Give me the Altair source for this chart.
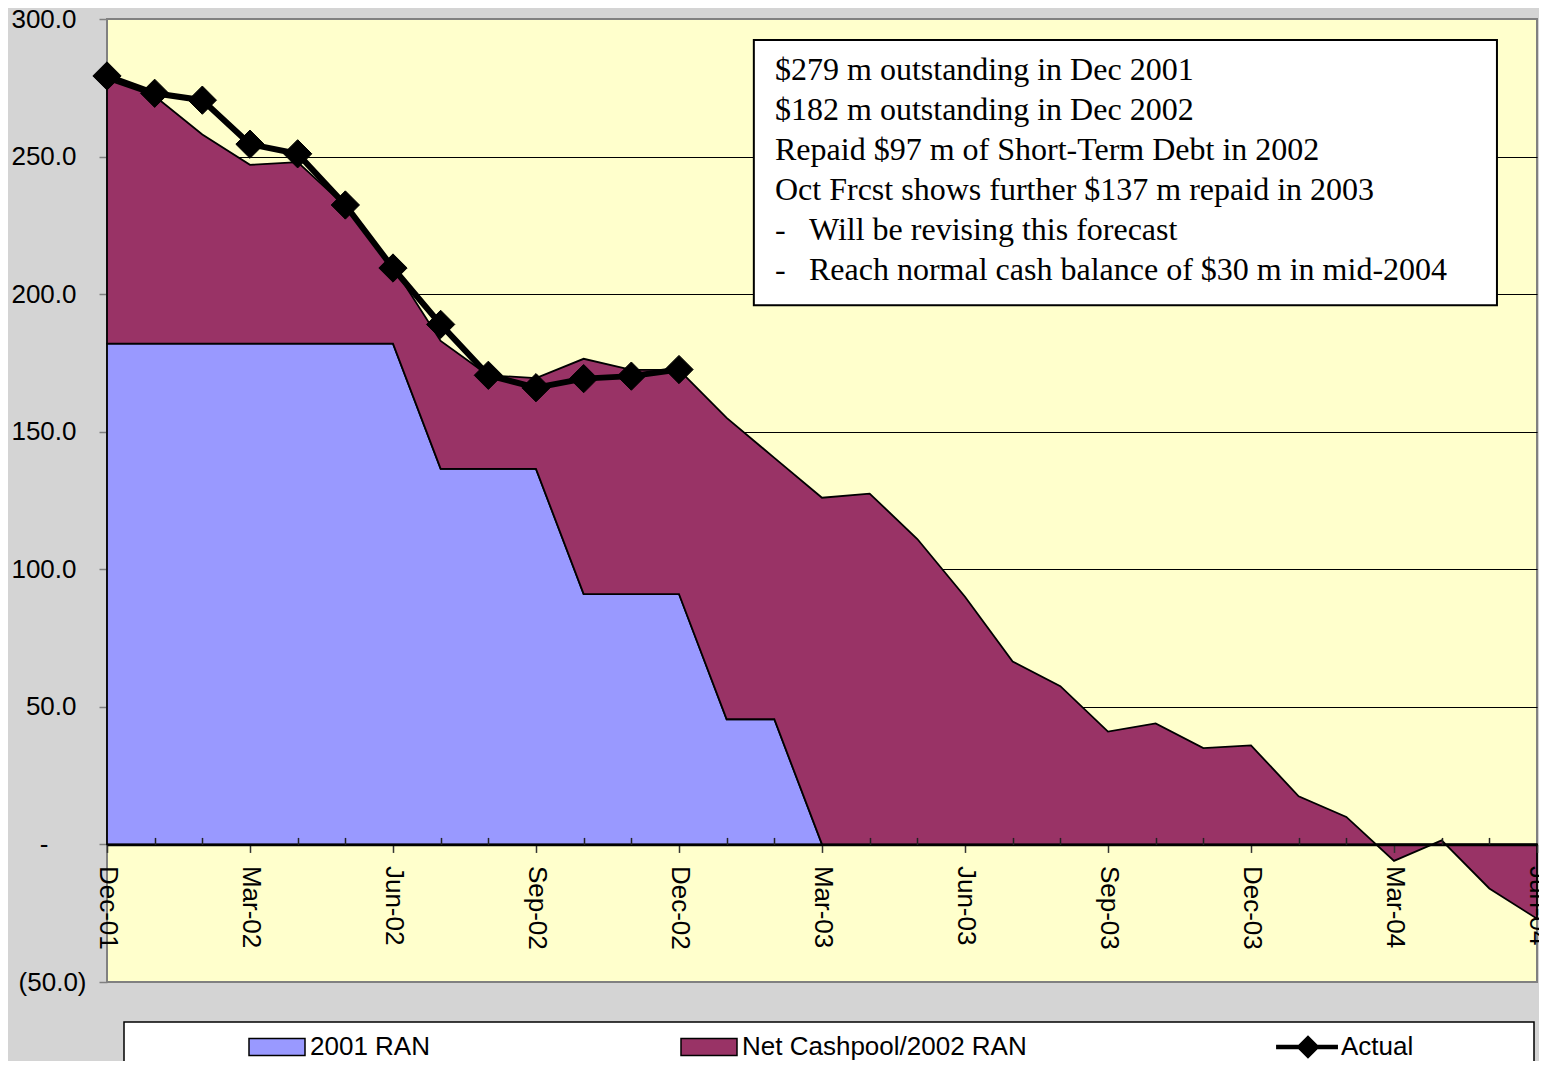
import altair as alt
import pandas as pd

# ---------------- data ----------------
months = ["Dec-01", "Jan-02", "Feb-02", "Mar-02", "Apr-02", "May-02", "Jun-02",
          "Jul-02", "Aug-02", "Sep-02", "Oct-02", "Nov-02", "Dec-02",
          "Jan-03", "Feb-03", "Mar-03", "Apr-03", "May-03", "Jun-03",
          "Jul-03", "Aug-03", "Sep-03", "Oct-03", "Nov-03", "Dec-03",
          "Jan-04", "Feb-04", "Mar-04", "Apr-04", "May-04", "Jun-04"]

ran_2001 = [182, 182, 182, 182, 182, 182, 182,
            136.5, 136.5, 136.5, 91, 91, 91,
            45.5, 45.5, 0, 0, 0, 0,
            0, 0, 0, 0, 0, 0,
            0, 0, 0, 0, 0, 0]

net_cashpool = [96, 90, 76, 65, 66, 50, 28,
                46.5, 34, 33, 85.5, 81.5, 81.5,
                109.5, 95, 126, 127.5, 111, 90,
                66.5, 57.5, 41, 44, 35, 36,
                17.5, 10, -6, 1.5, -16, -27]

actual = [279.3, 273, 270.5, 254.5, 251, 232.4, 209.5,
          189, 170.5, 166, 169.3, 170.2, 172.6]

area_series = ["2001 RAN", "Net Cashpool/2002 RAN"]
area_colors = ["#9999FF", "#993366"]
actual_name = "Actual"

y_pos_ticks = [50, 100, 150, 200, 250, 300]
y_zero_tick = [0]
y_neg_ticks = [-50]
y_grid = [50, 100, 150, 200, 250]

note_lines = ["$279 m outstanding in Dec 2001",
              "$182 m outstanding in Dec 2002",
              "Repaid $97 m of Short-Term Debt in 2002",
              "Oct Frcst shows further $137 m repaid in 2003"]
note_bullets = ["-", "-"]
note_sub = ["Will be revising this forecast",
            "Reach normal cash balance of $30 m in mid-2004"]

# note box corners, in chart (month index, $m) coordinates
note_box_x = [13.57, 29.16]
note_box_y = [292.4, 196.0]

# ---------------- tables ----------------
rows = []
for i, (r, n) in enumerate(zip(ran_2001, net_cashpool)):
    rows.append({"idx": i, "month": months[i], "series": area_series[0], "lo": 0, "hi": r})
    rows.append({"idx": i, "month": months[i], "series": area_series[1], "lo": r, "hi": r + n})
areas_df = pd.DataFrame(rows)

actual_df = pd.DataFrame({
    "idx": list(range(len(actual))),
    "month": months[:len(actual)],
    "series": actual_name,
    "value": actual,
})
one = pd.DataFrame({"k": [0]})

W, H = 1430, 963
SANS = "Liberation Sans"
SERIF = "Liberation Serif"

n_months = len(months)
js_months = "[" + ",".join("'" + m + "'" for m in months) + "]"
major_idx = [i for i in range(n_months) if i % 3 == 0]
minor_idx = [i for i in range(n_months) if i % 3 != 0]

x_scale = alt.Scale(domain=[0, n_months - 1], nice=False, zero=False)
y_scale = alt.Scale(domain=[-50, 300], nice=False, zero=False)

zero_from_bottom = H * 50.0 / 350.0   # pixel distance of y=0 above the bottom edge

x_axis_major = alt.Axis(
    values=major_idx,
    labelExpr=js_months + "[datum.value]",
    labelAngle=90, labelAlign="left", labelBaseline="middle",
    labelFlush=False, labelOverlap=False,
    labelFont=SANS, labelFontSize=26, labelColor="black",
    title=None, grid=False,
    tickSize=8, tickWidth=1.5, tickColor="#333333",
    domainColor="black", domainWidth=2.5,
    offset=-zero_from_bottom, labelPadding=13, zindex=1,
)

x_axis_minor = alt.Axis(
    orient="top", values=minor_idx, labels=False, domain=False, grid=False,
    title=None, tickSize=7, tickWidth=1.5, tickColor="#222222",
    offset=-(H - zero_from_bottom), zindex=1,
)

y_label_style = dict(
    orient="left", labelFont=SANS, labelFontSize=26, labelColor="black",
    labelAlign="right", title=None, domain=False, grid=False,
    tickSize=8, tickWidth=1.5, tickColor="#808080",
)

y_axis_pos = alt.Axis(values=y_pos_ticks, labelExpr="format(datum.value, '.1f')",
                      labelPadding=23, **y_label_style)
y_axis_zero = alt.Axis(values=y_zero_tick, labelExpr="'-'", labelPadding=51, **y_label_style)
y_axis_neg = alt.Axis(values=y_neg_ticks,
                      labelExpr="'(' + format(-datum.value, '.1f') + ')'",
                      labelPadding=13, **y_label_style)
y_axis_grid = alt.Axis(
    orient="left", values=y_grid, labels=False, ticks=False, domain=False,
    title=None, grid=True, gridColor="black", gridWidth=1, zindex=0,
)

rect_path = "M-1,-0.3H1V0.3H-1Z"
actual_path = "M-1.14,-0.08H1.07V0.08H-1.14Z M0,-0.42L0.42,0L0,0.42L-0.42,0Z"

common_legend = dict(
    title=None, orient="none", legendY=999,
    direction="horizontal", padding=0,
    labelFont=SANS, labelFontSize=26, labelColor="black", labelLimit=500,
    labelOffset=4, symbolSize=3136, symbolStrokeWidth=1.5,
    symbolStrokeColor="black", symbolOpacity=1,
)

area_legend = alt.Legend(legendX=141, columnPadding=248, symbolType=rect_path, **common_legend)
actual_legend = alt.Legend(legendX=1172, symbolType=actual_path, symbolFillColor="black", **common_legend)

areas = alt.Chart(areas_df).mark_area(stroke="black", strokeWidth=1.8, opacity=1).encode(
    x=alt.X("idx:Q", scale=x_scale, axis=x_axis_major),
    y=alt.Y("hi:Q", stack=None, scale=y_scale, axis=y_axis_pos),
    y2=alt.Y2("lo:Q"),
    color=alt.Color("series:N", scale=alt.Scale(domain=area_series, range=area_colors),
                    legend=area_legend),
    detail="series:N",
)

act_line = alt.Chart(actual_df).mark_line(strokeWidth=6, color="black").encode(
    x=alt.X("idx:Q", scale=x_scale, axis=x_axis_minor),
    y=alt.Y("value:Q", scale=y_scale, axis=y_axis_zero),
)

act_pts = alt.Chart(actual_df).mark_point(shape="diamond", filled=True, size=800,
                                           color="black", stroke="black", strokeWidth=1).encode(
    x=alt.X("idx:Q", scale=x_scale, axis=None),
    y=alt.Y("value:Q", scale=y_scale, axis=y_axis_neg),
    opacity=alt.Opacity("series:N", scale=alt.Scale(domain=[actual_name], range=[1]),
                        legend=actual_legend),
)

legend_box = alt.Chart(one).mark_rect(fill="white", stroke="black", strokeWidth=1.5).encode(
    x=alt.value(17), x2=alt.value(1427), y=alt.value(1003), y2=alt.value(1070),
)

note_box = alt.Chart(one).mark_rect(fill="white", stroke="black", strokeWidth=2).encode(
    x=alt.X(datum=note_box_x[0], scale=x_scale, axis=None),
    x2=alt.X2(datum=note_box_x[1]),
    y=alt.Y(datum=note_box_y[0], scale=y_scale, axis=y_axis_grid),
    y2=alt.Y2(datum=note_box_y[1]),
)

note_main = alt.Chart(one).mark_text(
    align="left", baseline="alphabetic", font=SERIF, fontSize=32, lineHeight=40,
    color="black", text=note_lines,
).encode(x=alt.value(668), y=alt.value(61))

note_dash = alt.Chart(one).mark_text(
    align="left", baseline="alphabetic", font=SERIF, fontSize=32, lineHeight=40,
    color="black", text=note_bullets,
).encode(x=alt.value(668), y=alt.value(221))

note_subl = alt.Chart(one).mark_text(
    align="left", baseline="alphabetic", font=SERIF, fontSize=32, lineHeight=40,
    color="black", text=note_sub,
).encode(x=alt.value(702), y=alt.value(221))

chart = alt.layer(
    areas, act_line, act_pts, legend_box, note_box, note_main, note_dash, note_subl
).resolve_axis(
    x="independent", y="independent"
).properties(
    width=W, height=H,
    autosize=alt.AutoSizeParams(type="none"),
    padding={"left": 99, "top": 11, "right": 2, "bottom": 79},
    background="#D4D4D4",
).configure_view(
    fill="#FFFFCC", stroke="#808080", strokeWidth=2,
)

chart.save("out.html", embed_options={"renderer": "svg", "actions": False})
